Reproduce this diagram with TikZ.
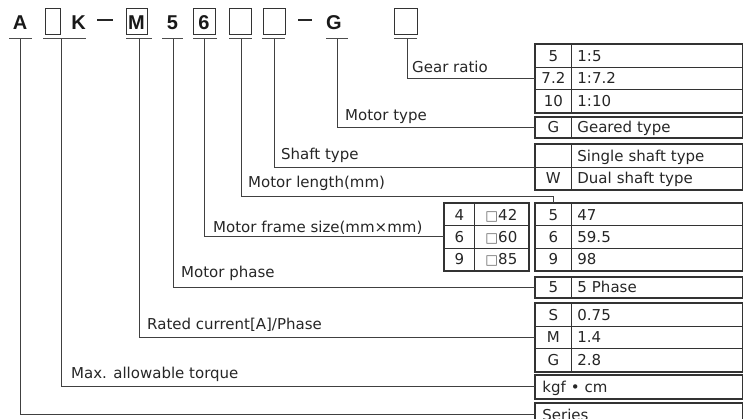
\documentclass[tikz,border=0pt]{standalone}
\usepackage{fontspec}
\usetikzlibrary{calc}
\setmainfont{DejaVu Sans}
\newfontfamily\codefont{Liberation Sans}
\newcommand{\lblfont}{\fontsize{15}{18}\selectfont}
\newcommand{\sq}{{\fontsize{13.5}{13.5}\selectfont\color{black!60}□}}
\begin{document}
\begin{tikzpicture}[x=1pt,y=-1pt,
  lbl/.style={anchor=base west, inner sep=0pt, font=\lblfont, text=black!85},
  code/.style={anchor=base, inner sep=0pt, font=\codefont\bfseries\fontsize{20}{24}\selectfont, text=black!90},
  cbox/.style={draw=black!80, line width=1.3pt, inner sep=0pt, anchor=north west, minimum height=26pt},
  cell/.style={draw=black!80, line width=0.8pt, anchor=north west, inner ysep=0pt,
     font=\lblfont, text=black!85, text height=10.9pt, text depth=0pt},
  ca/.style={cell, inner xsep=0pt, text width=36pt, minimum width=36pt, align=center, minimum height=#1},
  cb/.style={cell, inner xsep=6pt, text width=159pt, minimum width=171pt, align=left, minimum height=#1},
  cw/.style={cell, inner xsep=7pt, text width=193pt, minimum width=207pt, align=left, minimum height=#1},
  fa/.style={cell, inner xsep=0pt, text width=30pt, minimum width=30pt, align=center, minimum height=#1},
  fb/.style={cell, inner xsep=0pt, text width=54pt, minimum width=54pt, align=center, minimum height=#1},
  outer/.style={draw=black!80, line width=1.4pt},
  conn/.style={draw=black!75, line width=0.9pt},
  uline/.style={draw=black!70, line width=1.3pt},
  dashbar/.style={draw=black!85, line width=2pt}
]
\useasboundingbox (0,0) rectangle (743,418);
\clip (0,0) rectangle (743,418);

% ---- code row ----
\node[code] (cA) at (20,29) {A};
\node[cbox, minimum width=15pt] (bx1) at (45,8) {};
\node[code] (cK) at (78.5,29) {K};
\draw[dashbar] (97,19.5) -- (113,19.5);
\node[cbox, minimum width=21pt] (bxM) at (126,8) {};
\node[code] (cM) at (136.5,29) {M};
\node[code] (c5) at (172.5,29) {5};
\node[cbox, minimum width=22pt] (bx6) at (193,8) {};
\node[code] (c6) at (204,29) {6};
\node[cbox, minimum width=22pt] (bx7) at (229,8) {};
\node[cbox, minimum width=22pt] (bx8) at (263,8) {};
\draw[dashbar] (298,19.5) -- (312,19.5);
\node[code] (cG) at (334,29) {G};
\node[cbox, minimum width=23pt] (bx9) at (394,8) {};

% underlines
\draw[uline] (9,38.5) -- (32,38.5);
\draw[uline] (43,38.5) -- (86,38.5);
\draw[uline] (126,38.5) -- (152,38.5);
\draw[uline] (162,38.5) -- (183,38.5);
\draw[uline] (193,38.5) -- (217,38.5);
\draw[uline] (229,38.5) -- (252,38.5);
\draw[uline] (262,38.5) -- (285,38.5);
\draw[uline] (326,38.5) -- (348,38.5);
\draw[uline] (394,38.5) -- (417,38.5);

\coordinate (t1) at (20,38.5);
\coordinate (t2) at (61,38.5);
\coordinate (t3) at (139,38.5);
\coordinate (t4) at (173,38.5);
\coordinate (t5) at (204,38.5);
\coordinate (t6) at (241,38.5);
\coordinate (t7) at (274,38.5);
\coordinate (t8) at (337,38.5);
\coordinate (t9) at (407,38.5);

% ---- tables ----
% gear ratio
\node[ca=22.67pt] (g1a) at (535,44) {5};
\node[cb=22.67pt] (g1b) at (571,44) {1:5};
\node[ca=22.67pt] (g2a) at (535,66.67) {7.2};
\node[cb=22.67pt] (g2b) at (571,66.67) {1:7.2};
\node[ca=22.67pt] (g3a) at (535,89.33) {10};
\node[cb=22.67pt] (g3b) at (571,89.33) {1:10};
\draw[outer] (g1a.north west) rectangle (g3b.south east);
% motor type
\node[ca=20pt] (ta) at (535,117) {G};
\node[cb=20pt] (tb) at (571,117) {Geared type};
\draw[outer] (ta.north west) rectangle (tb.south east);
% shaft type
\node[ca=22.5pt] (s1a) at (535,144) {};
\node[cb=22.5pt] (s1b) at (571,144) {Single shaft type};
\node[ca=22.5pt] (s2a) at (535,166.5) {W};
\node[cb=22.5pt] (s2b) at (571,166.5) {Dual shaft type};
\draw[outer] (s1a.north west) rectangle (s2b.south east);
% frame size
\node[fa=22.33pt] (f1a) at (444,203) {4};
\node[fb=22.33pt] (f1b) at (474,203) {\sq42};
\node[fa=22.33pt] (f2a) at (444,225.33) {6};
\node[fb=22.33pt] (f2b) at (474,225.33) {\sq60};
\node[fa=22.33pt] (f3a) at (444,247.67) {9};
\node[fb=22.33pt] (f3b) at (474,247.67) {\sq85};
\draw[outer] (f1a.north west) rectangle (f3b.south east);
% motor length
\node[ca=22.33pt] (l1a) at (535,203) {5};
\node[cb=22.33pt] (l1b) at (571,203) {47};
\node[ca=22.33pt] (l2a) at (535,225.33) {6};
\node[cb=22.33pt] (l2b) at (571,225.33) {59.5};
\node[ca=22.33pt] (l3a) at (535,247.67) {9};
\node[cb=22.33pt] (l3b) at (571,247.67) {98};
\draw[outer] (l1a.north west) rectangle (l3b.south east);
% motor phase
\node[ca=20pt] (pa) at (535,277) {5};
\node[cb=20pt] (pb) at (571,277) {5 Phase};
\draw[outer] (pa.north west) rectangle (pb.south east);
% rated current
\node[ca=22.67pt] (r1a) at (535,303) {S};
\node[cb=22.67pt] (r1b) at (571,303) {0.75};
\node[ca=22.67pt] (r2a) at (535,325.67) {M};
\node[cb=22.67pt] (r2b) at (571,325.67) {1.4};
\node[ca=22.67pt] (r3a) at (535,348.33) {G};
\node[cb=22.67pt] (r3b) at (571,348.33) {2.8};
\draw[outer] (r1a.north west) rectangle (r3b.south east);
% torque
\node[cw=23pt] (kg) at (535,375) {kgf • cm};
\draw[outer] (kg.north west) rectangle (kg.south east);
% series
\node[cw=23pt] (se) at (535,403) {Series};
\draw[outer] (se.north west) rectangle (se.south east);

% ---- labels ----
\node[lbl] (lg) at (412,72) {Gear ratio};
\node[lbl] (lt) at (345,120) {Motor type};
\node[lbl] (ls) at (281,159) {Shaft type};
\node[lbl] (ll) at (248,187) {Motor length(mm)};
\node[lbl] (lf) at (213,232) {Motor frame size(mm×mm)};
\node[lbl] (lp) at (181,277) {Motor phase};
\node[lbl] (lr) at (147,329) {Rated current[A]/Phase};
\node[lbl] (lm) at (71,378) {Max. allowable torque};

% ---- connectors ----
\draw[conn] (t9) |- (g2a.west);
\draw[conn] (t8) |- (ta.west);
\draw[conn] (t7) |- (s1a.south west);
\draw[conn] (t6) |- ($(l1a.north)+(0,-7)$) -- (l1a.north);
\draw[conn] (t5) |- (f2a.west);
\draw[conn] (t4) |- (pa.west);
\draw[conn] (t3) |- (r2a.west);
\draw[conn] (t2) |- (kg.west);
\draw[conn] (t1) |- (se.west);
\end{tikzpicture}
\end{document}
